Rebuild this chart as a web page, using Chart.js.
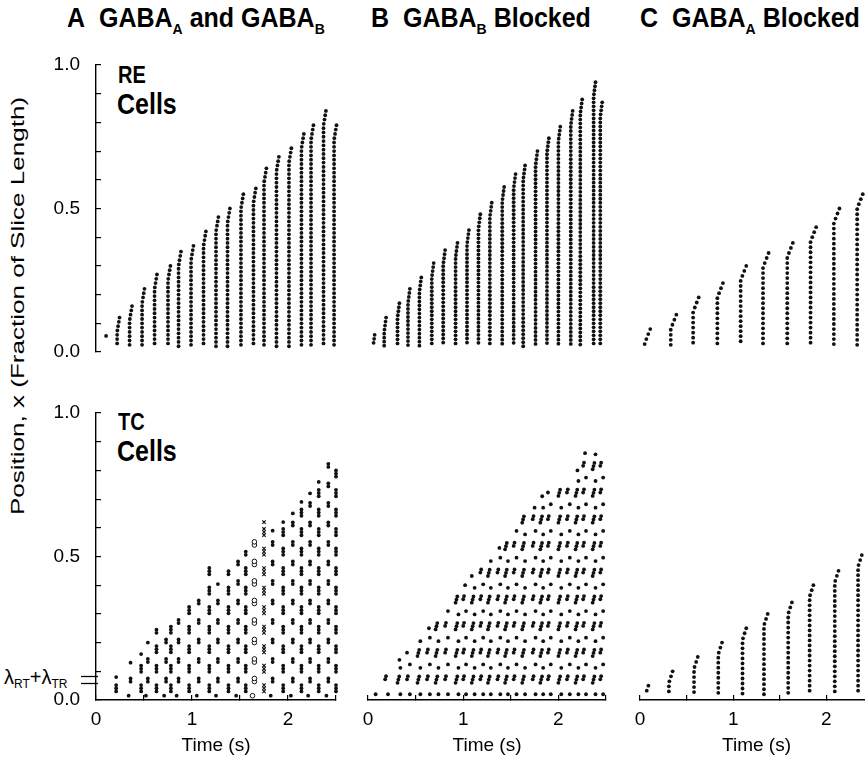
<!DOCTYPE html>
<html><head><meta charset="utf-8">
<script src="https://cdn.jsdelivr.net/npm/chart.js@4"></script>
<style>
html,body{margin:0;padding:0;background:#fff;}
body{width:865px;height:760px;overflow:hidden;position:relative;font-family:"Liberation Sans",Arial,Helvetica,sans-serif;color:#000;}
canvas{position:absolute;}
.ttl{position:absolute;top:2px;font-weight:bold;font-size:25px;white-space:nowrap;transform:scaleY(1.08);transform-origin:0 0;}
.ttl sub{font-size:14px;vertical-align:-7px;line-height:0;}
.lbl{position:absolute;font-weight:bold;white-space:nowrap;transform:scaleY(1.2);transform-origin:0 0;}
.ylab{position:absolute;left:18px;top:306px;font-size:19px;white-space:nowrap;transform:translate(-50%,-50%) rotate(-90deg) scaleX(1.37);}
.lam{position:absolute;left:4px;top:666px;font-size:20px;white-space:nowrap;}
.lam sub{font-size:12px;vertical-align:-4px;line-height:0;}
</style></head>
<body>
<div class="ttl" style="left:67px">A&nbsp; GABA<sub>A</sub> and GABA<sub>B</sub></div>
<div class="ttl" style="left:371px">B&nbsp; GABA<sub>B</sub> Blocked</div>
<div class="ttl" style="left:640px">C&nbsp; GABA<sub>A</sub> Blocked</div>
<div class="lbl" style="left:118px;top:61px;font-size:20px">RE</div>
<div class="lbl" style="left:117px;top:86px;font-size:25px">Cells</div>
<div class="lbl" style="left:118px;top:408px;font-size:20px">TC</div>
<div class="lbl" style="left:117px;top:433px;font-size:25px">Cells</div>
<div class="ylab">Position, x (Fraction of Slice Length)</div>
<div class="lam">λ<sub>RT</sub>+λ<sub>TR</sub></div>
<script>
// ================= DATA =================
const timeTickLabels = [0, 1, 2];
const posTickLabels = [0.0, 0.5, 1.0];
const lambdaMarks = [0.082, 0.058];

// RE cells, A: GABA_A and GABA_B  (burst time s, lowest / highest firing cell position)
const reA_times   = [0.08,0.22,0.35,0.48,0.61,0.75,0.86,0.99,1.12,1.25,1.37,1.51,1.64,1.75,1.88,2.01,2.14,2.24,2.37,2.48];
const reA_bottoms = [0.055,0.02,0.02,0.02,0.02,0.02,0.02,0.02,0.02,0.02,0.02,0.02,0.02,0.02,0.02,0.02,0.02,0.02,0.02,0.02];
const reA_tops    = [0.056,0.12,0.16,0.22,0.27,0.30,0.35,0.37,0.42,0.47,0.50,0.55,0.57,0.64,0.68,0.71,0.76,0.79,0.84,0.79];

// RE cells, B: GABA_B blocked
const reB_times   = [0.05,0.17,0.31,0.42,0.54,0.67,0.79,0.92,1.04,1.16,1.28,1.41,1.53,1.63,1.76,1.88,2.00,2.13,2.23,2.37,2.44];
const reB_bottoms = [0.02,0.02,0.02,0.02,0.02,0.02,0.02,0.02,0.02,0.02,0.02,0.02,0.02,0.02,0.02,0.02,0.02,0.02,0.02,0.02,0.02];
const reB_tops    = [0.06,0.12,0.17,0.22,0.26,0.31,0.355,0.38,0.425,0.48,0.52,0.575,0.62,0.65,0.70,0.745,0.785,0.84,0.88,0.94,0.87];

// RE cells, C: GABA_A blocked
const reC_times   = [0.05,0.33,0.57,0.83,1.08,1.32,1.58,1.83,2.08,2.33];
const reC_bottoms = [0.025,0.025,0.025,0.025,0.025,0.025,0.025,0.025,0.025,0.025];
const reC_tops    = [0.08,0.13,0.19,0.24,0.30,0.345,0.38,0.435,0.50,0.55];

// TC cells, A  (column time, highest cell, lattice phase, marker)
const tcA_times  = [0.21,0.36,0.47,0.54,0.63,0.73,0.78,0.86,0.97,1.07,1.18,1.27,1.38,1.48,1.56,1.65,1.75,1.84,1.95,2.05,2.14,2.23,2.32,2.42,2.50];
const tcA_tops   = [0.08,0.13,0.16,0.20,0.25,0.23,0.26,0.29,0.33,0.36,0.46,0.41,0.45,0.49,0.52,0.56,0.62,0.59,0.62,0.65,0.69,0.72,0.76,0.83,0.81];
const tcA_phase  = [0,1,0,1,0,1,0,1,0,1,0,1,0,1,0,1,0,1,0,1,0,1,0,1,0];
const tcA_marker = ['dot','dot','dot','dot','dot','dot','dot','dot','dot','dot','dot','dot','dot','dot','dot','circle','cross','dot','dot','dot','dot','dot','dot','dot','dot'];

// TC cells, B
const tcB_times = [0.05,0.18,0.31,0.41,0.52,0.62,0.71,0.81,0.92,1.00,1.09,1.18,1.26,1.36,1.44,1.53,1.62,1.73,1.81,1.89,2.00,2.09,2.18,2.26,2.36,2.44];
const tcB_tops  = [0.04,0.10,0.14,0.17,0.21,0.25,0.28,0.31,0.37,0.40,0.44,0.47,0.50,0.53,0.56,0.61,0.64,0.67,0.71,0.73,0.75,0.74,0.80,0.86,0.88,0.84];
const tcB_phase = [0,1,0,1,0,1,0,1,0,1,0,1,0,1,0,1,0,1,0,1,0,1,0,1,0,1];

// TC cells, C
const tcC_times   = [0.05,0.31,0.58,0.84,1.10,1.33,1.59,1.82,2.09,2.34];
const tcC_bottoms = [0.02,0.02,0.02,0.02,0.02,0.02,0.02,0.02,0.02,0.02];
const tcC_tops    = [0.05,0.10,0.15,0.20,0.25,0.30,0.34,0.40,0.45,0.505];

// ================= BUILD POINTS =================
function stripes(times, bottoms, tops, step, bendLen, bend) {
  const pts = [];
  times.forEach((t, i) => {
    for (let p = tops[i]; p >= bottoms[i] - 1e-9; p -= step) {
      const d = tops[i] - p;
      const s = d < bendLen ? bend * (1 - d / bendLen) : 0;
      pts.push({x: t + s, y: p});
    }
  });
  return pts;
}
// lattice columns: groups of cells every `period`, shifted half a period on odd phase
function latticeA(i) {
  const pts = [], t = tcA_times[i], top = tcA_tops[i], ph = tcA_phase[i];
  const period = 0.068, n = ph ? 2 : 3, step = 0.011;
  if (ph) pts.push({x: t - 0.02, y: 0.015});
  for (let c = 0.03 + ph * period / 2; c <= top + 1e-9; c += period)
    for (let k = 0; k < n; k++) { const p = c + k * step; if (p <= top + 1e-9) pts.push({x: t, y: p}); }
  if (pts.length && Math.abs(pts[pts.length-1].y - top) > 0.02) pts.push({x: t, y: top});
  return pts;
}
function latticeB(i) {
  const pts = [], t = tcB_times[i], top = tcB_tops[i], ph = tcB_phase[i];
  const period = 0.093, step = 0.011, n = ph ? 2 : 3;
  pts.push({x: t + 0.03, y: 0.02});
  for (let c = 0.06 + ph * 0.012; c <= top + 1e-9; c += period) {
    for (let k = 0; k < n; k++) { const p = c + k * step; if (p <= top + 1e-9) pts.push({x: t + k * 0.009, y: p}); }
    const s = c + 0.052; if (s <= top + 1e-9) pts.push({x: t + 0.03, y: s});
  }
  if (Math.abs(pts[pts.length-1].y - top) > 0.025) pts.push({x: t + 0.02, y: top});
  return pts;
}

const FONT = '"Liberation Sans", Arial, Helvetica, sans-serif';
const GEOM = {cols:[{x0:96,pps:96},{x0:368,pps:95},{x0:640,pps:93}], rows:[{top:65,bottom:352},{top:413,bottom:700}]};

const lambdaPlugin = {
  id:'lambda',
  afterDraw(chart, args, o) {
    if (!o.on) return;
    const y = chart.scales.y, ctx = chart.ctx, l = chart.chartArea.left;
    ctx.save(); ctx.strokeStyle = '#000'; ctx.lineWidth = 1.3;
    lambdaMarks.forEach(v => { const py = Math.round(y.getPixelForValue(v)) + 0.5; ctx.beginPath(); ctx.moveTo(l - 15, py); ctx.lineTo(l + 2, py); ctx.stroke(); });
    ctx.restore();
  }
};

function dot(data, extra) {
  return Object.assign({data, pointRadius:1.9, pointHoverRadius:1.9, backgroundColor:'#111', borderColor:'#111', borderWidth:0, showLine:false, clip:false}, extra || {});
}

function panel(col, row, datasets, lambdaOn) {
  const g = GEOM.cols[col], r = GEOM.rows[row];
  const hasY = col === 0, hasX = row === 1;
  const yW = 50, padL = hasY ? 0 : 24, padT = 36, padR = 18, xH = 58, padB = 36;
  const areaW = 2.5 * g.pps, areaH = r.bottom - r.top;
  const left = g.x0 - (hasY ? yW : padL);
  const top = r.top - padT;
  const width = Math.round((hasY ? yW : padL) + areaW + padR);
  const height = padT + areaH + (hasX ? xH : padB);
  const cv = document.createElement('canvas');
  cv.width = width; cv.height = height;
  Object.assign(cv.style, {left: left + 'px', top: top + 'px', width: width + 'px', height: height + 'px'});
  document.body.appendChild(cv);
  new Chart(cv, {
    type: 'scatter',
    data: {datasets},
    plugins: [lambdaPlugin],
    options: {
      responsive:false, animation:false, devicePixelRatio:1,
      layout:{padding:{left:padL, right:padR, top:padT, bottom: hasX ? 0 : padB}},
      plugins:{legend:{display:false}, tooltip:{enabled:false}, lambda:{on: !!lambdaOn}},
      scales:{
        x:{type:'linear', min:0, max:2.5, display:hasX, position:'bottom',
           border:{display:true, color:'#000', width:1.4},
           grid:{drawOnChartArea:false, drawTicks:true, tickLength:-5, color:'#000', lineWidth:1.2},
           ticks:{stepSize:0.5, autoSkip:false, maxRotation:0, padding:13, color:'#000', font:{size:19, family:FONT},
                  callback:(v) => timeTickLabels.includes(v) ? String(v) : ''},
           title:{display:true, text:'Time (s)', color:'#000', font:{size:19, family:FONT}, padding:{top:0, bottom:1}},
           afterFit:(s) => { if (hasX) s.height = xH; }},
        y:{type:'linear', min:0, max:1, display:hasY, position:'left',
           border:{display:true, color:'#000', width:1.4},
           grid:{drawOnChartArea:false, drawTicks:true, tickLength:-5, color:'#000', lineWidth:1.2},
           ticks:{stepSize:0.1, autoSkip:false, padding:21, color:'#000', font:{size:19, family:FONT},
                  callback:(v) => posTickLabels.some(p => Math.abs(p - v) < 1e-6) ? v.toFixed(1) : ''},
           afterFit:(s) => { if (hasY) s.width = yW; }}
      }
    }
  });
}

// TC A split by marker style
const tcA_dots = [], tcA_circ = [], tcA_cross = [];
tcA_times.forEach((t, i) => {
  const pts = latticeA(i);
  (tcA_marker[i] === 'circle' ? tcA_circ : tcA_marker[i] === 'cross' ? tcA_cross : tcA_dots).push(...pts);
});
const tcB_pts = [];
tcB_times.forEach((t, i) => tcB_pts.push(...latticeB(i)));

panel(0, 0, [dot(stripes(reA_times, reA_bottoms, reA_tops, 0.015, 0.05, 0.025))]);
panel(1, 0, [dot(stripes(reB_times, reB_bottoms, reB_tops, 0.014, 0.05, 0.02))]);
panel(2, 0, [dot(stripes(reC_times, reC_bottoms, reC_tops, 0.0175, 0.05, 0.06))]);
panel(0, 1, [
  dot(tcA_dots),
  dot(tcA_circ, {pointStyle:'circle', pointRadius:2.3, backgroundColor:'#fff', borderColor:'#111', borderWidth:1}),
  dot(tcA_cross, {pointStyle:'crossRot', pointRadius:2.4, borderColor:'#111', borderWidth:1.1})
], true);
panel(1, 1, [dot(tcB_pts)]);
panel(2, 1, [dot(stripes(tcC_times, tcC_bottoms, tcC_tops, 0.0175, 0.04, 0.04))]);
</script>
</body></html>
